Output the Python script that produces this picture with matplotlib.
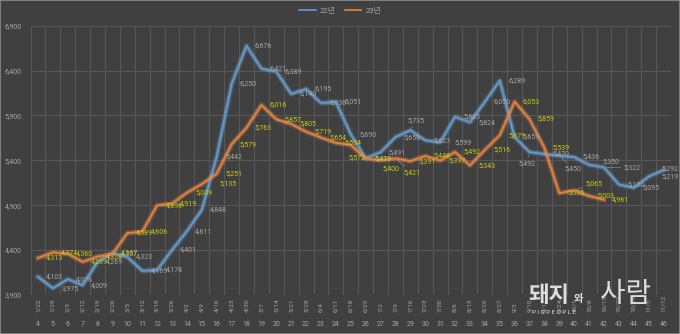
import matplotlib
matplotlib.use('Agg')
import matplotlib.pyplot as plt
import matplotlib.patheffects as pe
from matplotlib.patches import Rectangle
from matplotlib.lines import Line2D
from matplotlib.ticker import FuncFormatter

plt.rcParams['font.family'] = ['Roboto', 'Noto Sans CJK KR', 'DejaVu Sans']

# weekly values, week 4 .. 46
DATES = ['1/22', '1/29', '2/5', '2/12', '2/19', '2/26', '3/5', '3/12', '3/19', '3/26',
         '4/2', '4/9', '4/16', '4/23', '4/30', '5/7', '5/14', '5/21', '5/28', '6/4',
         '6/11', '6/18', '6/25', '7/2', '7/9', '7/16', '7/23', '7/30', '8/6', '8/13',
         '8/20', '8/27', '9/3', '9/10', '9/17', '9/24', '10/1', '10/8', '10/15', '10/22',
         '10/29', '11/5', '11/12']
WEEKS = [4, 5, 6, 7, 8, 9, 10, 11, 12, 13, 14, 15, 16, 17, 18, 19, 20, 21, 22, 23,
         24, 25, 26, 27, 28, 29, 30, 31, 32, 33, 34, 35, 36, 37, 38, 39, 40, 41, 42, 43,
         44, 45, 46]
Y22 = [4103, 3975, 4076, 4009, 4269, 4367, 4323, 4169, 4178, 4401,
       4611, 4848, 5442, 6250, 6676, 6421, 6389, 6140, 6195, 6038,
       6051, 5690, 5423, 5491, 5658, 5735, 5623, 5599, 5885, 5824,
       6050, 6289, 5659, 5492, 5470, 5450, 5436, 5350, 5322, 5130,
       5095, 5219, 5292]
Y23 = [4313, 4374, 4360, 4269, 4328, 4357, 4589, 4606, 4898, 4919,
       5039, 5135, 5251, 5579, 5763, 6016, 5857, 5805, 5719, 5654,
       5594, 5572, 5419, 5400, 5421, 5391, 5448, 5397, 5492, 5343,
       5516, 5679, 6053, 5859, 5539, 5035, 5065, 5003, 4961]

BG = '#404040'
GRID = '#575757'
TXT = '#a6a6a6'
BLUE = '#5b9bd5'
ORANGE = '#ed7d31'
LBL22 = '#a6a6a6'
LBL23 = '#c8c814'

# label offsets (points) for labels that were moved off the default spot
OFF22 = {29: (-2, 7), 31: (10, 0), 37: (-8, -8), 39: (4, -9), 41: (10, 2),
         42: (14, 0), 45: (9, 0), 46: (-1.5, 1)}
OFF23 = {15: (13, 0), 25: (-2, -9), 27: (1.5, -6), 28: (5.5, -10), 40: (8, 5)}
LEADER = {('22', 29), ('22', 37), ('22', 39), ('22', 42), ('23', 28), ('23', 40)}

fig = plt.figure(figsize=(6.8, 3.34), dpi=100, facecolor=BG)
ax = fig.add_axes([0.0449, 0.1168, 0.9419, 0.8063], facecolor=BG)

x22 = list(range(len(Y22)))
x23 = list(range(len(Y23)))


def glow(color, light):
    return [pe.Stroke(linewidth=4.6, foreground=color, alpha=0.12),
            pe.Stroke(linewidth=2.8, foreground=light, alpha=0.3),
            pe.Normal()]


ax.plot(x22, Y22, color=BLUE, lw=1.25, zorder=3, path_effects=glow(BLUE, '#9dc3e6'))
ax.plot(x23, Y23, color=ORANGE, lw=1.25, zorder=3, path_effects=glow(ORANGE, '#f4b183'))


def add_labels(xs, ys, color, offs, tag, z):
    for x, y in zip(xs, ys):
        wk = WEEKS[x]
        dx, dy = offs.get(wk, (6, 0))
        kw = {}
        if (tag, wk) in LEADER:
            kw['arrowprops'] = dict(arrowstyle='-', color='#8a8a8a', lw=0.5,
                                    shrinkA=0, shrinkB=2)
        ax.annotate(f'{y:,}', (x, y), xytext=(dx, dy), textcoords='offset points',
                    ha='left', va='center', fontsize=5, color=color, zorder=z, **kw)


add_labels(x22, Y22, LBL22, OFF22, '22', 4)
add_labels(x23, Y23, LBL23, OFF23, '23', 5)

ax.set_xlim(-0.5, len(DATES) - 0.5)
ax.set_ylim(3900, 6900)
ax.set_yticks([3900, 4400, 4900, 5400, 5900, 6400, 6900])
ax.yaxis.set_major_formatter(FuncFormatter(lambda v, p: f'{int(v):,}'))
ax.tick_params(axis='y', length=0, pad=6.5, labelsize=5, labelcolor=TXT)
ax.set_xticks([i - 0.5 for i in range(len(DATES) + 1)])
ax.set_xticklabels([])
ax.tick_params(axis='x', length=0)
ax.grid(True, color=GRID, lw=0.8)
ax.set_axisbelow(True)
for s in ax.spines.values():
    s.set_visible(False)

for i, (d, w) in enumerate(zip(DATES, WEEKS)):
    ax.text(i, -0.063, d, transform=ax.get_xaxis_transform(), rotation=90,
            ha='center', va='bottom', fontsize=4.6, color=TXT)
    ax.text(i, -0.109, str(w), transform=ax.get_xaxis_transform(),
            ha='center', va='center', fontsize=5, color=TXT)

handles = [Line2D([], [], color=BLUE, lw=1.25), Line2D([], [], color=ORANGE, lw=1.25)]
fig.legend(handles, ['22년', '23년'], loc='upper center', bbox_to_anchor=(0.5, 1.0),
           ncol=2, frameon=False, fontsize=5.5, labelcolor=TXT, handlelength=2.2,
           columnspacing=1.2, handletextpad=0.5)

# watermark logo
logo = '#dedede'
fig.text(528 / 680, 1 - 296 / 334, '돼지', fontsize=16, color=logo, fontweight='bold',
         ha='left', va='center', family=['Noto Sans CJK KR'], zorder=6)
fig.text(574 / 680, 1 - 299 / 334, '와', fontsize=7.5, color=logo, fontweight='bold',
         ha='left', va='center', family=['Noto Sans CJK KR'], zorder=6)
fig.text(600 / 680, 1 - 294 / 334, '사람', fontsize=20, color=logo,
         ha='left', va='center', family=['Noto Sans CJK KR'], zorder=6)
fig.text(532 / 680, 1 - 313 / 334, 'P I G P E O P L E', fontsize=4.5, color=logo,
         ha='left', va='center', zorder=6)

fig.patches.append(Rectangle((0, 0), 1, 1, transform=fig.transFigure, fill=False,
                             edgecolor='#8c8c8c', lw=1.2))

fig.savefig('out.png', dpi=100, facecolor=BG)
